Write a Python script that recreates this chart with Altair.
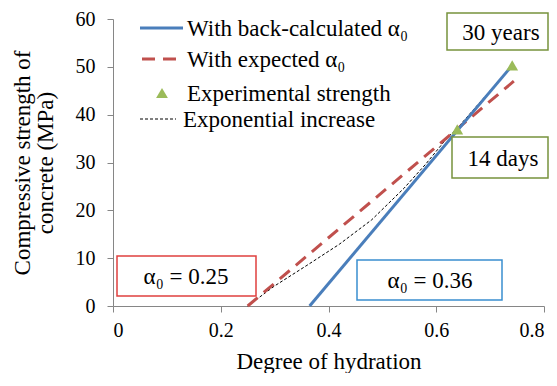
import altair as alt
import pandas as pd

# ---- data ----
x_back = [0.365, 0.741]
y_back = [0.0, 50.3]
x_expected = [0.25, 0.744]
y_expected = [0.0, 47.0]
x_expo = [0.25, 0.30, 0.36, 0.42, 0.48, 0.54, 0.58, 0.62, 0.64, 0.70, 0.741]
y_expo = [0.0, 4.2, 8.5, 12.9, 18.0, 24.6, 29.6, 35.1, 37.3, 45.0, 50.3]
x_exp_pts = [0.639, 0.741]
y_exp_pts = [36.9, 50.3]

legend_labels = ["With back-calculated α₀", "With expected α₀",
                 "Experimental strength", "Exponential increase"]
box_labels = ["30 years", "14 days", "α₀ = 0.25", "α₀ = 0.36"]
x_ticks = [0, 0.2, 0.4, 0.6, 0.8]
y_ticks = [0, 10, 20, 30, 40, 50, 60]

# ---- styling / layout ----
FONT = "Liberation Serif"
BLUE = "#4A7EBB"
RED = "#C0504D"
GREEN = "#9BBB59"

xs = alt.Scale(domain=[0, 0.8], nice=False, zero=False)
ys = alt.Scale(domain=[0, 60], nice=False)
X = alt.X("x:Q", scale=xs, title="Degree of hydration",
          axis=alt.Axis(values=x_ticks, format=".1~f", labelPadding=8, titlePadding=10))
Y = alt.Y("y:Q", scale=ys, title=["Compressive strength of", "concrete (MPa)"],
          axis=alt.Axis(values=y_ticks, labelPadding=12, titlePadding=18, titleLineHeight=23))

df_back = pd.DataFrame({"x": x_back, "y": y_back})
df_expected = pd.DataFrame({"x": x_expected, "y": y_expected})
df_expo = pd.DataFrame({"x": x_expo, "y": y_expo})
df_pts = pd.DataFrame({"x": x_exp_pts, "y": y_exp_pts})

expo = alt.Chart(df_expo).mark_line(color="black", strokeWidth=1, strokeDash=[3, 2]).encode(x=X, y=Y)
expected = alt.Chart(df_expected).mark_line(color=RED, strokeWidth=3, strokeDash=[13, 8]).encode(x=X, y=Y)
back = alt.Chart(df_back).mark_line(color=BLUE, strokeWidth=3).encode(x=X, y=Y)
pts = alt.Chart(df_pts).mark_point(shape="triangle-up", filled=True, color=GREEN,
                                    size=140, opacity=1).encode(x=X, y=Y)

one = pd.DataFrame({"a": [0]})
layers = [expo, expected, back, pts]

# ---- manual legend ----
leg_y = [9, 40, 74, 100]
leg_text_x = [74, 74, 74, 70]
layers.append(alt.Chart(one).mark_rule(color=BLUE, strokeWidth=3).encode(
    x=alt.value(27), x2=alt.value(70), y=alt.value(leg_y[0])))
layers.append(alt.Chart(one).mark_rule(color=RED, strokeWidth=3, strokeDash=[13, 8]).encode(
    x=alt.value(29), x2=alt.value(66), y=alt.value(leg_y[1])))
layers.append(alt.Chart(one).mark_point(shape="triangle-up", filled=True, color=GREEN,
                                         size=140, opacity=1).encode(
    x=alt.value(49), y=alt.value(leg_y[2])))
layers.append(alt.Chart(one).mark_rule(color="black", strokeWidth=1, strokeDash=[3, 2]).encode(
    x=alt.value(27), x2=alt.value(63), y=alt.value(leg_y[3])))
for lab, lx, ly in zip(legend_labels, leg_text_x, leg_y):
    layers.append(alt.Chart(one).mark_text(text=lab, align="left", baseline="middle",
                                           font=FONT, fontSize=23, color="black").encode(
        x=alt.value(lx), y=alt.value(ly + 1)))

# ---- annotation boxes ----
boxes = [  # x, x2, y, y2, border colour, text centre x
    (334, 435, -6, 31, "#77933C", 388),
    (339, 435, 118, 159, "#77933C", 390),
    (4, 143, 237, 277, "#E0403F", 73),
    (244, 389, 241, 281, "#3A8FD0", 317),
]
for lab, (bx, bx2, by, by2, col, tx) in zip(box_labels, boxes):
    layers.append(alt.Chart(one).mark_rect(fill="white", stroke=col, strokeWidth=1.5).encode(
        x=alt.value(bx), x2=alt.value(bx2), y=alt.value(by), y2=alt.value(by2)))
    layers.append(alt.Chart(one).mark_text(text=lab, align="center", baseline="middle",
                                           font=FONT, fontSize=23, color="black").encode(
        x=alt.value(tx), y=alt.value((by + by2) / 2 + 1)))

chart = alt.layer(*layers).properties(
    width=431, height=287,
    autosize=alt.AutoSizeParams(type="none"),
    padding={"left": 105, "top": 11, "right": 5, "bottom": 67},
).configure_view(stroke=None).configure_axis(
    labelFont=FONT, labelFontSize=20, labelColor="black",
    titleFont=FONT, titleFontSize=23, titleColor="black", titleFontWeight="normal",
    domainColor="#868686", tickColor="#868686", tickSize=6, grid=False,
)

chart.save("out.html", embed_options={"renderer": "svg", "actions": False})
